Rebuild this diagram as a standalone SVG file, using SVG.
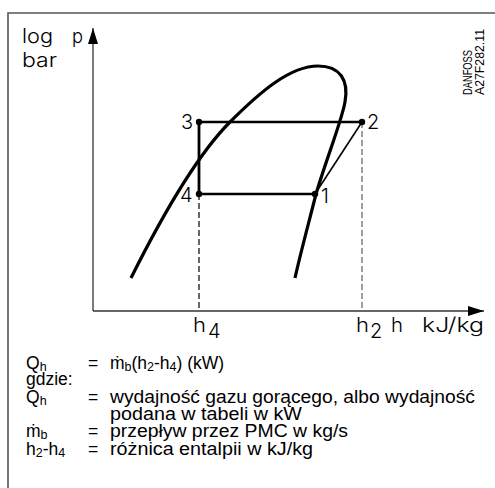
<svg xmlns="http://www.w3.org/2000/svg" width="495" height="488" viewBox="0 0 495 488">
<style>
.lbl{font-family:"Liberation Sans",Arial,sans-serif;font-size:20px;fill:#000}
.big{font-family:Inter,"Liberation Sans",Arial,sans-serif;font-weight:300;font-size:20px;fill:#000}
.txt{font-family:"Liberation Sans",Arial,sans-serif;font-size:17.5px;fill:#000}
.sub{font-size:12.5px}
.curve{fill:none;stroke:#000;stroke-width:3.2;stroke-linecap:butt}
.cyc{fill:none;stroke:#000;stroke-width:2.3}
.axis{fill:none;stroke:#333;stroke-width:1.3}
</style>
<defs>
<marker id="arr" markerWidth="16" markerHeight="10" refX="16" refY="5" orient="auto" markerUnits="userSpaceOnUse">
<path d="M0,0 L16,5 L0,10 Z" fill="#000"/>
</marker>
</defs>
<rect x="0" y="0" width="495" height="488" fill="#fff"/>
<path d="M8,488 L8,13 L495,13" fill="none" stroke="#555" stroke-width="1.6"/>

<g id="axes">
<line class="axis" x1="93" y1="311" x2="93" y2="28" marker-end="url(#arr)"/>
<line class="axis" x1="93" y1="311" x2="484" y2="311" marker-end="url(#arr)"/>
</g>

<g id="curve">
<path class="curve" d="M131,278 C156,228 195,157 230,122 C260,92 290,66 318,66 C340,66 349,80 345,102 C342,120 326,160 316,194 C309,222 300,255 295,278"/>
</g>

<g id="connectors">
<line x1="199" y1="194" x2="199" y2="311" stroke="#000" stroke-width="1.2" stroke-dasharray="6,3"/>
<line x1="362" y1="122" x2="362" y2="311" stroke="#777" stroke-width="1.4" stroke-dasharray="6,3"/>
<path class="cyc" d="M199,122 L362,122"/>
<path class="cyc" d="M199,122 L199,194" style="stroke-width:2.8"/>
<path class="cyc" d="M199,194 L315,194"/>
<path class="cyc" d="M315,194 L362,122" style="stroke-width:1.6"/>
</g>

<g id="p3"><circle cx="199" cy="122" r="3.2"/><text class="big" x="181" y="129">3</text></g>
<g id="p2"><circle cx="362" cy="122" r="3.2"/><text class="big" x="367" y="129">2</text></g>
<g id="p4"><circle cx="199" cy="194" r="3.2"/><text class="big" x="180" y="202">4</text></g>
<g id="p1"><circle cx="315" cy="194" r="3.2"/><text class="big" x="321" y="203">1</text></g>

<g id="labels">
<text class="big" x="22" y="43" textLength="31" lengthAdjust="spacingAndGlyphs">log</text>
<text class="big" x="72" y="43" textLength="11" lengthAdjust="spacingAndGlyphs">p</text>
<text class="big" x="22" y="67" textLength="35" lengthAdjust="spacingAndGlyphs">bar</text>
<text class="big" x="193" y="332" textLength="13" lengthAdjust="spacingAndGlyphs">h</text>
<text class="big" x="208" y="338" font-size="15">4</text>
<text class="big" x="356" y="332" textLength="13" lengthAdjust="spacingAndGlyphs">h</text>
<text class="big" x="370" y="338" font-size="15">2</text>
<text class="big" x="391" y="332" textLength="12" lengthAdjust="spacingAndGlyphs">h</text>
<text class="big" x="422" y="332" textLength="62" lengthAdjust="spacingAndGlyphs">kJ/kg</text>
<text font-family="Liberation Sans,Arial,sans-serif" font-size="12" transform="translate(472,95) rotate(-90)" textLength="45" lengthAdjust="spacingAndGlyphs">DANFOSS</text>
<text font-family="Liberation Sans,Arial,sans-serif" font-size="12" transform="translate(484,95) rotate(-90)" textLength="66" lengthAdjust="spacingAndGlyphs">A27F282.11</text>
</g>

<g id="legend">
<text class="txt" x="26" y="369">Q<tspan class="sub" dy="2">h</tspan></text>
<text class="txt" x="88" y="369">=</text>
<text class="txt" x="110" y="369">ṁ<tspan class="sub" dy="2">b</tspan><tspan dy="-2">(h</tspan><tspan class="sub" dy="2">2</tspan><tspan dy="-2">-h</tspan><tspan class="sub" dy="2">4</tspan><tspan dy="-2">) (kW)</tspan></text>
<text class="txt" x="26" y="385">gdzie:</text>
<text class="txt" x="26" y="403">Q<tspan class="sub" dy="2">h</tspan></text>
<text class="txt" x="88" y="403">=</text>
<text class="txt" x="110" y="403" textLength="365" lengthAdjust="spacingAndGlyphs">wydajność gazu gorącego, albo wydajność</text>
<text class="txt" x="110" y="420" textLength="192" lengthAdjust="spacingAndGlyphs">podana w tabeli w kW</text>
<text class="txt" x="26" y="437">ṁ<tspan class="sub" dy="2">b</tspan></text>
<text class="txt" x="88" y="437">=</text>
<text class="txt" x="110" y="437" textLength="238" lengthAdjust="spacingAndGlyphs">przepływ przez PMC w kg/s</text>
<text class="txt" x="26" y="455">h<tspan class="sub" dy="2">2</tspan><tspan dy="-2">-h</tspan><tspan class="sub" dy="2">4</tspan></text>
<text class="txt" x="88" y="455">=</text>
<text class="txt" x="110" y="455" textLength="203" lengthAdjust="spacingAndGlyphs">różnica entalpii w kJ/kg</text>
</g>
</svg>
